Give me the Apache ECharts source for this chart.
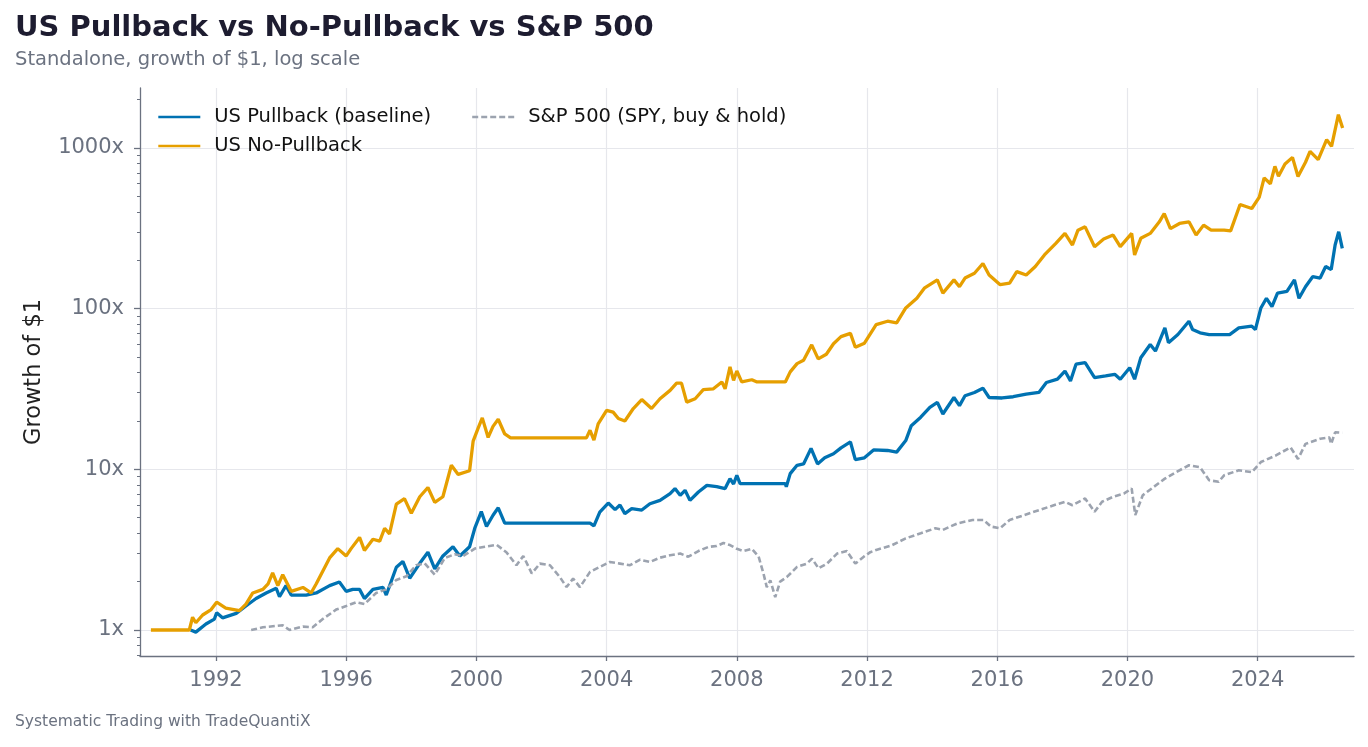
<!DOCTYPE html>
<html>
<head>
<meta charset="utf-8">
<title>US Pullback vs No-Pullback vs S&amp;P 500</title>
<script src="https://cdn.jsdelivr.net/npm/echarts@6/dist/echarts.min.js"></script>
<style>
  html, body { margin: 0; padding: 0; background: #ffffff; }
  #chart { width: 1368px; height: 747px; }
</style>
</head>
<body>
<div id="chart"></div>
<script>
// growth of $1, [fractional year, multiple]
const pullback = [
  [1991.22, 1.0], [1991.38, 0.97], [1991.69, 1.09], [1991.95, 1.17], [1992.02, 1.28],
  [1992.2, 1.19], [1992.62, 1.27], [1992.92, 1.41], [1993.23, 1.57], [1993.54, 1.70],
  [1993.85, 1.82], [1993.95, 1.61], [1994.15, 1.89], [1994.31, 1.65], [1994.77, 1.65],
  [1995.08, 1.70], [1995.49, 1.89], [1995.79, 1.99], [1996.0, 1.74], [1996.2, 1.79],
  [1996.41, 1.79], [1996.56, 1.57], [1996.82, 1.79], [1997.13, 1.84], [1997.23, 1.65],
  [1997.54, 2.46], [1997.74, 2.67], [1997.95, 2.10], [1998.26, 2.60], [1998.51, 3.05],
  [1998.72, 2.40], [1998.97, 2.89], [1999.28, 3.30], [1999.49, 2.89], [1999.79, 3.30],
  [1999.95, 4.30], [2000.15, 5.46], [2000.31, 4.41], [2000.51, 5.18], [2000.67, 5.76],
  [2000.87, 4.63], [2003.49, 4.63], [2003.61, 4.45], [2003.79, 5.42], [2004.05, 6.17],
  [2004.26, 5.61], [2004.41, 6.0], [2004.56, 5.3], [2004.77, 5.69], [2005.08, 5.58],
  [2005.33, 6.11], [2005.64, 6.41], [2005.95, 7.06], [2006.1, 7.59], [2006.26, 6.89],
  [2006.41, 7.4], [2006.56, 6.41], [2006.82, 7.23], [2007.08, 7.94], [2007.38, 7.8],
  [2007.64, 7.59], [2007.79, 8.75], [2007.9, 8.1], [2008.0, 9.18], [2008.1, 8.14],
  [2009.49, 8.14], [2009.52, 7.8], [2009.64, 9.4], [2009.85, 10.6], [2010.05, 10.8],
  [2010.28, 13.5], [2010.48, 10.8], [2010.7, 11.8], [2010.97, 12.5], [2011.2, 13.6],
  [2011.49, 14.8], [2011.64, 11.5], [2011.92, 11.8], [2012.2, 13.2], [2012.63, 13.1],
  [2012.91, 12.8], [2013.19, 15.1], [2013.36, 18.7], [2013.65, 21.1], [2013.93, 24.3],
  [2014.16, 26.1], [2014.33, 22.1], [2014.67, 28], [2014.84, 24.9], [2015.01, 28.7],
  [2015.3, 30.1], [2015.56, 32], [2015.75, 28], [2016.15, 27.8], [2016.49, 28.3],
  [2016.89, 29.4], [2017.28, 30.1], [2017.51, 34.7], [2017.85, 36.4], [2018.08, 40.9],
  [2018.25, 35.5], [2018.42, 45.1], [2018.7, 46.1], [2018.99, 37.2], [2019.33, 38.1],
  [2019.61, 39], [2019.78, 36.4], [2020.07, 42.9], [2020.22, 36.4], [2020.41, 49.5],
  [2020.7, 59.8], [2020.86, 54.5], [2021.15, 75.9], [2021.26, 61.4], [2021.55, 69],
  [2021.89, 83.5], [2022.0, 74.2], [2022.23, 70.7], [2022.51, 69], [2023.14, 69],
  [2023.42, 75.9], [2023.82, 77.8], [2023.93, 74], [2024.1, 101], [2024.27, 116],
  [2024.44, 103], [2024.61, 125], [2024.9, 128], [2025.13, 151], [2025.27, 116],
  [2025.47, 137], [2025.69, 158], [2025.92, 155], [2026.09, 183], [2026.26, 175],
  [2026.38, 249], [2026.49, 301], [2026.6, 237]
];

const noPullback = [
  [1990.0, 1.0], [1991.18, 1.0], [1991.28, 1.20], [1991.38, 1.11], [1991.59, 1.24],
  [1991.85, 1.34], [1992.02, 1.49], [1992.3, 1.37], [1992.72, 1.32], [1992.92, 1.45],
  [1993.13, 1.70], [1993.44, 1.79], [1993.6, 1.94], [1993.74, 2.27], [1993.9, 1.89],
  [1994.05, 2.21], [1994.31, 1.74], [1994.67, 1.84], [1994.92, 1.70], [1995.08, 1.94],
  [1995.49, 2.81], [1995.74, 3.21], [1996.0, 2.89], [1996.15, 3.21], [1996.41, 3.77],
  [1996.56, 3.13], [1996.82, 3.67], [1997.03, 3.57], [1997.18, 4.30], [1997.33, 3.97],
  [1997.54, 6.07], [1997.79, 6.57], [1998.0, 5.32], [1998.26, 6.75], [1998.51, 7.71],
  [1998.72, 6.23], [1998.97, 6.75], [1999.23, 10.6], [1999.44, 9.3], [1999.79, 9.8],
  [1999.9, 15], [2000.05, 18], [2000.18, 20.9], [2000.36, 15.8], [2000.51, 18.5],
  [2000.67, 20.5], [2000.87, 16.6], [2001.05, 15.7], [2003.38, 15.7], [2003.49, 17.5],
  [2003.61, 15.2], [2003.74, 19.2], [2004.0, 23.3], [2004.2, 22.7], [2004.36, 20.7],
  [2004.56, 20], [2004.82, 23.9], [2005.08, 27.2], [2005.38, 23.9], [2005.64, 27.5],
  [2005.95, 31], [2006.15, 34.4], [2006.3, 34.4], [2006.46, 26.2], [2006.72, 27.5],
  [2006.97, 31.3], [2007.28, 31.7], [2007.54, 35], [2007.64, 31.7], [2007.79, 43.4],
  [2007.9, 35.8], [2008.0, 40.9], [2008.15, 35], [2008.46, 36.1], [2008.62, 35],
  [2009.49, 35], [2009.64, 40.4], [2009.85, 45.5], [2010.05, 47.7], [2010.3, 59.5],
  [2010.5, 48.7], [2010.75, 52], [2010.97, 60.5], [2011.2, 67], [2011.49, 70.2],
  [2011.64, 57.5], [2011.92, 61], [2012.28, 79.6], [2012.63, 83.5], [2012.91, 81.6],
  [2013.19, 101], [2013.53, 116], [2013.76, 134], [2014.16, 151], [2014.33, 125],
  [2014.67, 151], [2014.84, 137], [2015.01, 155], [2015.3, 166], [2015.56, 191],
  [2015.75, 162], [2016.09, 141], [2016.38, 144], [2016.6, 170], [2016.89, 162],
  [2017.17, 183], [2017.45, 216], [2017.8, 255], [2018.08, 294], [2018.31, 249],
  [2018.48, 308], [2018.7, 323], [2018.99, 243], [2019.27, 271], [2019.56, 287],
  [2019.78, 243], [2020.13, 294], [2020.22, 216], [2020.41, 274], [2020.7, 294],
  [2020.98, 347], [2021.13, 391], [2021.32, 315], [2021.6, 339], [2021.89, 347],
  [2022.11, 287], [2022.34, 331], [2022.57, 308], [2022.97, 308], [2023.17, 305],
  [2023.46, 445], [2023.82, 420], [2024.05, 495], [2024.2, 652], [2024.39, 599],
  [2024.53, 769], [2024.64, 667], [2024.84, 795], [2025.07, 874], [2025.24, 665],
  [2025.47, 815], [2025.61, 953], [2025.86, 847], [2026.12, 1127], [2026.27, 1024],
  [2026.48, 1611], [2026.61, 1331]
];

const spy = [
  [1993.08, 1.0], [1993.44, 1.04], [1994.05, 1.07], [1994.26, 1.0], [1994.67, 1.05],
  [1994.97, 1.04], [1995.28, 1.17], [1995.69, 1.34], [1996.0, 1.41], [1996.31, 1.49],
  [1996.56, 1.45], [1996.92, 1.70], [1997.23, 1.79], [1997.54, 2.05], [1997.85, 2.16],
  [1998.15, 2.53], [1998.41, 2.60], [1998.72, 2.21], [1999.03, 2.81], [1999.33, 2.96],
  [1999.59, 2.89], [1999.95, 3.21], [2000.26, 3.30], [2000.62, 3.39], [2000.92, 3.05],
  [2001.23, 2.53], [2001.44, 2.89], [2001.7, 2.25], [2001.95, 2.59], [2002.26, 2.53],
  [2002.56, 2.14], [2002.77, 1.85], [2002.97, 2.09], [2003.18, 1.85], [2003.49, 2.30],
  [2003.79, 2.47], [2004.1, 2.65], [2004.41, 2.59], [2004.72, 2.53], [2005.03, 2.74],
  [2005.33, 2.65], [2005.64, 2.82], [2005.95, 2.92], [2006.26, 2.99], [2006.51, 2.86],
  [2006.82, 3.1], [2007.13, 3.29], [2007.38, 3.33], [2007.59, 3.48], [2007.79, 3.38],
  [2008.0, 3.2], [2008.21, 3.1], [2008.46, 3.2], [2008.67, 2.86], [2008.82, 2.24],
  [2008.92, 1.85], [2009.03, 2.04], [2009.18, 1.60], [2009.33, 2.0], [2009.54, 2.14],
  [2009.85, 2.47], [2010.15, 2.59], [2010.31, 2.78], [2010.51, 2.42], [2010.77, 2.59],
  [2011.08, 2.99], [2011.38, 3.1], [2011.64, 2.59], [2011.9, 2.86], [2012.1, 3.05],
  [2012.28, 3.15], [2012.74, 3.35], [2013.19, 3.72], [2013.65, 4.0], [2014.1, 4.3],
  [2014.33, 4.2], [2014.78, 4.61], [2015.24, 4.84], [2015.58, 4.84], [2015.81, 4.4],
  [2016.09, 4.3], [2016.38, 4.84], [2016.83, 5.19], [2017.28, 5.57], [2017.74, 5.98],
  [2018.08, 6.28], [2018.31, 5.98], [2018.7, 6.59], [2018.99, 5.44], [2019.22, 6.28],
  [2019.56, 6.75], [2019.9, 7.08], [2020.13, 7.6], [2020.24, 5.19], [2020.47, 6.9],
  [2020.81, 7.78], [2021.15, 8.75], [2021.49, 9.6], [2021.89, 10.6], [2022.23, 10.3],
  [2022.51, 8.55], [2022.8, 8.36], [2022.97, 9.18], [2023.42, 9.86], [2023.82, 9.6],
  [2024.1, 11.1], [2024.56, 12.2], [2025.01, 13.7], [2025.24, 11.6], [2025.47, 14.4],
  [2025.92, 15.5], [2026.2, 15.8], [2026.26, 14.4], [2026.38, 17], [2026.6, 16.9]
];

const yearTicks = [1992, 1996, 2000, 2004, 2008, 2012, 2016, 2020, 2024];
const growthTicks = [1, 10, 100, 1000];
const minorGrowthTicks = [0.7, 0.8, 0.9, 2, 3, 4, 5, 6, 7, 8, 9, 20, 30, 40, 50, 60, 70, 80, 90,
  200, 300, 400, 500, 600, 700, 800, 900, 2000];

const FONT = 'DejaVu Sans';
const MUTED = '#6b7280';
const GRIDC = '#e6e7ec';

const chart = echarts.init(document.getElementById('chart'), null, { renderer: 'canvas' });

const legendText = { fontFamily: FONT, fontSize: 19.5, color: '#111111', lineHeight: 18 };

const option = {
  animation: false,
  backgroundColor: '#ffffff',
  textStyle: { fontFamily: FONT },
  title: {
    text: 'US Pullback vs No-Pullback vs S&P 500',
    subtext: 'Standalone, growth of $1, log scale',
    left: 15,
    top: 14,
    padding: 0,
    itemGap: 7,
    textStyle: { fontFamily: FONT, fontSize: 29, fontWeight: 'bold', color: '#1d1c30' },
    subtextStyle: { fontFamily: FONT, fontSize: 19.5, color: MUTED }
  },
  legend: [
    {
      data: ['US Pullback (baseline)', 'US No-Pullback'],
      orient: 'vertical',
      left: 157,
      top: 107,
      itemWidth: 42,
      itemHeight: 14,
      itemGap: 9,
      padding: 0,
      itemStyle: { opacity: 0 },
      lineStyle: { width: 2.6 },
      textStyle: Object.assign({ padding: [0, 0, 0, 9] }, legendText)
    },
    {
      data: ['S&P 500 (SPY, buy & hold)'],
      orient: 'vertical',
      left: 471,
      top: 107,
      itemWidth: 42,
      itemHeight: 14,
      padding: 0,
      itemStyle: { opacity: 0 },
      lineStyle: { width: 2.4 },
      textStyle: Object.assign({ padding: [0, 0, 0, 9] }, legendText)
    }
  ],
  grid: { left: 140, right: 14, top: 88, bottom: 91, containLabel: false },
  xAxis: {
    type: 'value',
    min: 1989.665,
    max: 2026.96,
    axisLine: { show: true, lineStyle: { color: MUTED, width: 1.3 } },
    axisTick: { show: true, customValues: yearTicks, length: 5, lineStyle: { color: MUTED, width: 1.3 } },
    axisLabel: {
      customValues: yearTicks,
      formatter: v => String(v),
      color: MUTED,
      fontFamily: FONT,
      fontSize: 21,
      margin: 14
    },
    splitLine: { show: true, lineStyle: { color: GRIDC, width: 1.2 } }
  },
  yAxis: [
    {
      type: 'log',
      logBase: 10,
      min: 0.689,
      max: 2362,
      name: 'Growth of $1',
      nameLocation: 'middle',
      nameGap: 94,
      nameTextStyle: { fontFamily: FONT, fontSize: 22.5, color: '#222222' },
      axisLine: { show: true, lineStyle: { color: MUTED, width: 1.3 } },
      axisTick: { show: true, customValues: growthTicks, length: 6, lineStyle: { color: MUTED, width: 1.3 } },
      axisLabel: {
        customValues: growthTicks,
        formatter: v => v + 'x',
        color: MUTED,
        fontFamily: FONT,
        fontSize: 21,
        margin: 16
      },
      splitLine: { show: true, lineStyle: { color: GRIDC, width: 1.2 } }
    },
    {
      // minor log ticks (2..9 per decade)
      type: 'log',
      logBase: 10,
      min: 0.689,
      max: 2362,
      position: 'left',
      axisLine: { show: false },
      axisTick: { show: true, customValues: minorGrowthTicks, length: 3, lineStyle: { color: MUTED, width: 1 } },
      axisLabel: { show: false },
      splitLine: { show: false }
    }
  ],
  series: [
    {
      name: 'US Pullback (baseline)',
      type: 'line',
      data: pullback,
      symbol: 'none',
      showSymbol: false,
      color: '#0072b2',
      lineStyle: { color: '#0072b2', width: 3.3 },
      z: 3
    },
    {
      name: 'US No-Pullback',
      type: 'line',
      data: noPullback,
      symbol: 'none',
      showSymbol: false,
      color: '#e69f00',
      lineStyle: { color: '#e69f00', width: 3.3 },
      z: 4
    },
    {
      name: 'S&P 500 (SPY, buy & hold)',
      type: 'line',
      data: spy,
      symbol: 'none',
      showSymbol: false,
      color: '#9ca3af',
      lineStyle: { color: '#9ca3af', width: 2.6, type: [6, 3] },
      z: 5
    }
  ],
  graphic: [
    {
      type: 'text',
      left: 15,
      top: 714,
      style: { text: 'Systematic Trading with TradeQuantiX', fontFamily: FONT, fontSize: 15.5, fill: MUTED }
    }
  ]
};

chart.setOption(option);
</script>
</body>
</html>
